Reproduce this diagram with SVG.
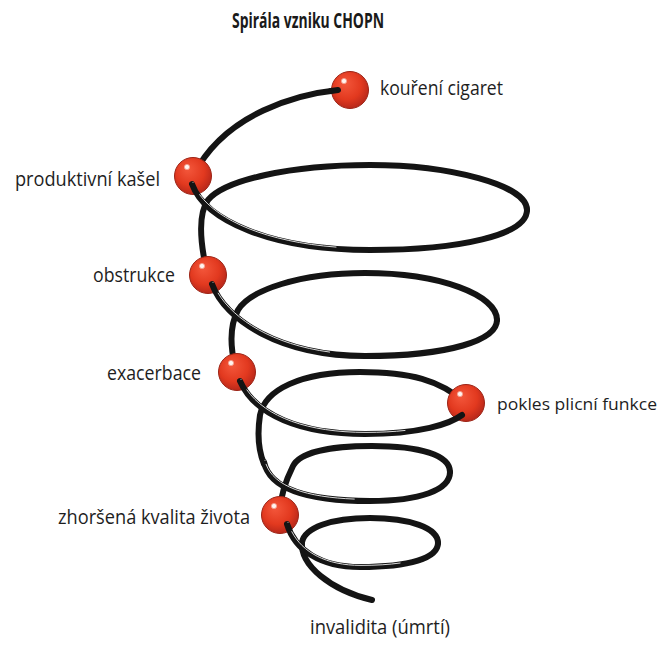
<svg xmlns="http://www.w3.org/2000/svg" width="669" height="645" viewBox="0 0 669 645">
  <defs>
    <radialGradient id="ballGrad" cx="45%" cy="40%" r="60%" fx="35%" fy="30%">
      <stop offset="0%" stop-color="#f4583c"/>
      <stop offset="65%" stop-color="#e2391f"/>
      <stop offset="100%" stop-color="#b8281a"/>
    </radialGradient>
  </defs>
  <style>
    .strand { fill: none; stroke: #141414; stroke-width: 6; stroke-linecap: round; stroke-linejoin: round; }
    .hl { fill: none; stroke: #d9d9d9; stroke-width: 1; stroke-linecap: round; }
    .ball { fill: url(#ballGrad); stroke: #9c2416; stroke-width: 1; }
    .shine { fill: #fff4f0; stroke: #f3a08e; stroke-width: 0.8; }
    .label { font-family: "Open Sans", "Noto Sans", "Liberation Sans", sans-serif; font-size: 20px; fill: #1e1e1e; }
    .title { font-family: "Open Sans", "Noto Sans", "Liberation Sans", sans-serif; font-size: 21px; font-weight: bold; fill: #1a1a1a; }
  </style>
  <rect width="669" height="645" fill="#ffffff"/>

  <text class="title" x="232" y="28" textLength="152" lengthAdjust="spacingAndGlyphs">Spirála vzniku CHOPN</text>

  <!-- strands behind the balls -->
  <g id="connectors-back">
    <path class="strand" d="M338,90 C300,94 225,112 193,176"/>
    <path class="strand" d="M527,210 C527,185 450,165 370,165 C290,165 225,180 208,200 C198,214 200,240 206,268"/>
    <path class="strand" d="M497,320 C497,295 440,273 365,273 C300,273 250,290 238,310 C230,325 230,345 235,366"/>
    <path class="strand" d="M466,403 C440,380 410,372 360,372 C300,372 265,390 260,415 C257,435 259,452 264,464"/>
    <path class="strand" d="M450,472 C450,455 420,446 372,446 C330,446 300,452 293,466 C287,478 281,492 280,510"/>
    <path class="strand" d="M438,543 C438,528 410,518 370,518 C330,518 305,528 302,542 C300,565 330,590 372,600"/>
  </g>

  <g id="node-koureni">
    <circle class="ball" cx="350" cy="90" r="18.5"/>
    <circle class="shine" cx="344" cy="81" r="2.6"/>
    <text class="label" x="380" y="95" textLength="123" lengthAdjust="spacingAndGlyphs">kouření cigaret</text>
  </g>
  <g id="node-kasel">
    <circle class="ball" cx="193" cy="176" r="18.5"/>
    <circle class="shine" cx="187" cy="167" r="2.6"/>
    <text class="label" x="15" y="186" textLength="145" lengthAdjust="spacingAndGlyphs">produktivní kašel</text>
  </g>
  <g id="node-obstrukce">
    <circle class="ball" cx="208" cy="275" r="18.5"/>
    <circle class="shine" cx="202" cy="266" r="2.6"/>
    <text class="label" x="93" y="282" textLength="82" lengthAdjust="spacingAndGlyphs">obstrukce</text>
  </g>
  <g id="node-exacerbace">
    <circle class="ball" cx="237" cy="372" r="18.5"/>
    <circle class="shine" cx="231" cy="363" r="2.6"/>
    <text class="label" x="107" y="380" textLength="94" lengthAdjust="spacingAndGlyphs">exacerbace</text>
  </g>
  <g id="node-pokles">
    <circle class="ball" cx="466" cy="403" r="18.5"/>
    <circle class="shine" cx="460" cy="394" r="2.6"/>
    <text class="label" x="497" y="410" textLength="160" lengthAdjust="spacingAndGlyphs" style="font-size:17px">pokles plicní funkce</text>
  </g>
  <g id="node-kvalita">
    <circle class="ball" cx="280" cy="515" r="18.5"/>
    <circle class="shine" cx="274" cy="506" r="2.6"/>
    <text class="label" x="58" y="524" textLength="192" lengthAdjust="spacingAndGlyphs">zhoršená kvalita života</text>
  </g>
  <g id="node-invalidita">
    <text class="label" x="310" y="634" textLength="140" lengthAdjust="spacingAndGlyphs">invalidita (úmrtí)</text>
  </g>

  <!-- strands in front of the balls -->
  <g id="connectors-front">
    <path class="strand" d="M331,91 L338,90"/>
    <path class="strand" d="M192,184 C205,220 270,250 370,250 C460,250 527,235 527,210"/>
    <path class="hl" d="M192,184 C205,220 270,250 370,250" transform="translate(1,-1.6)" stroke-dasharray="0 14 150 999"/>
    <path class="strand" d="M212,284 C225,320 280,356 365,356 C450,356 497,340 497,320"/>
    <path class="hl" d="M212,284 C225,320 280,356 365,356" transform="translate(1,-1.6)" stroke-dasharray="0 12 130 999"/>
    <path class="strand" d="M240,381 C255,415 300,434 365,434 C420,434 450,424 462,415"/>
    <path class="hl" d="M240,381 C255,415 300,434 365,434 C420,434 450,424 462,415" transform="translate(1,-1.6)" stroke-dasharray="0 12 170 999"/>
    <path class="strand" d="M264,462 C270,490 310,501 370,501 C420,501 450,490 450,472"/>
    <path class="hl" d="M264,462 C270,490 310,501 370,501" transform="translate(1,-1.6)" stroke-dasharray="0 4 100 999"/>
    <path class="strand" d="M287,524 C295,550 320,567 360,567 C410,567 438,558 438,543"/>
    <path class="hl" d="M287,524 C295,550 320,567 360,567 C410,567 438,558 438,543" transform="translate(1,-1.6)" stroke-dasharray="0 10 120 999"/>
  </g>
</svg>
